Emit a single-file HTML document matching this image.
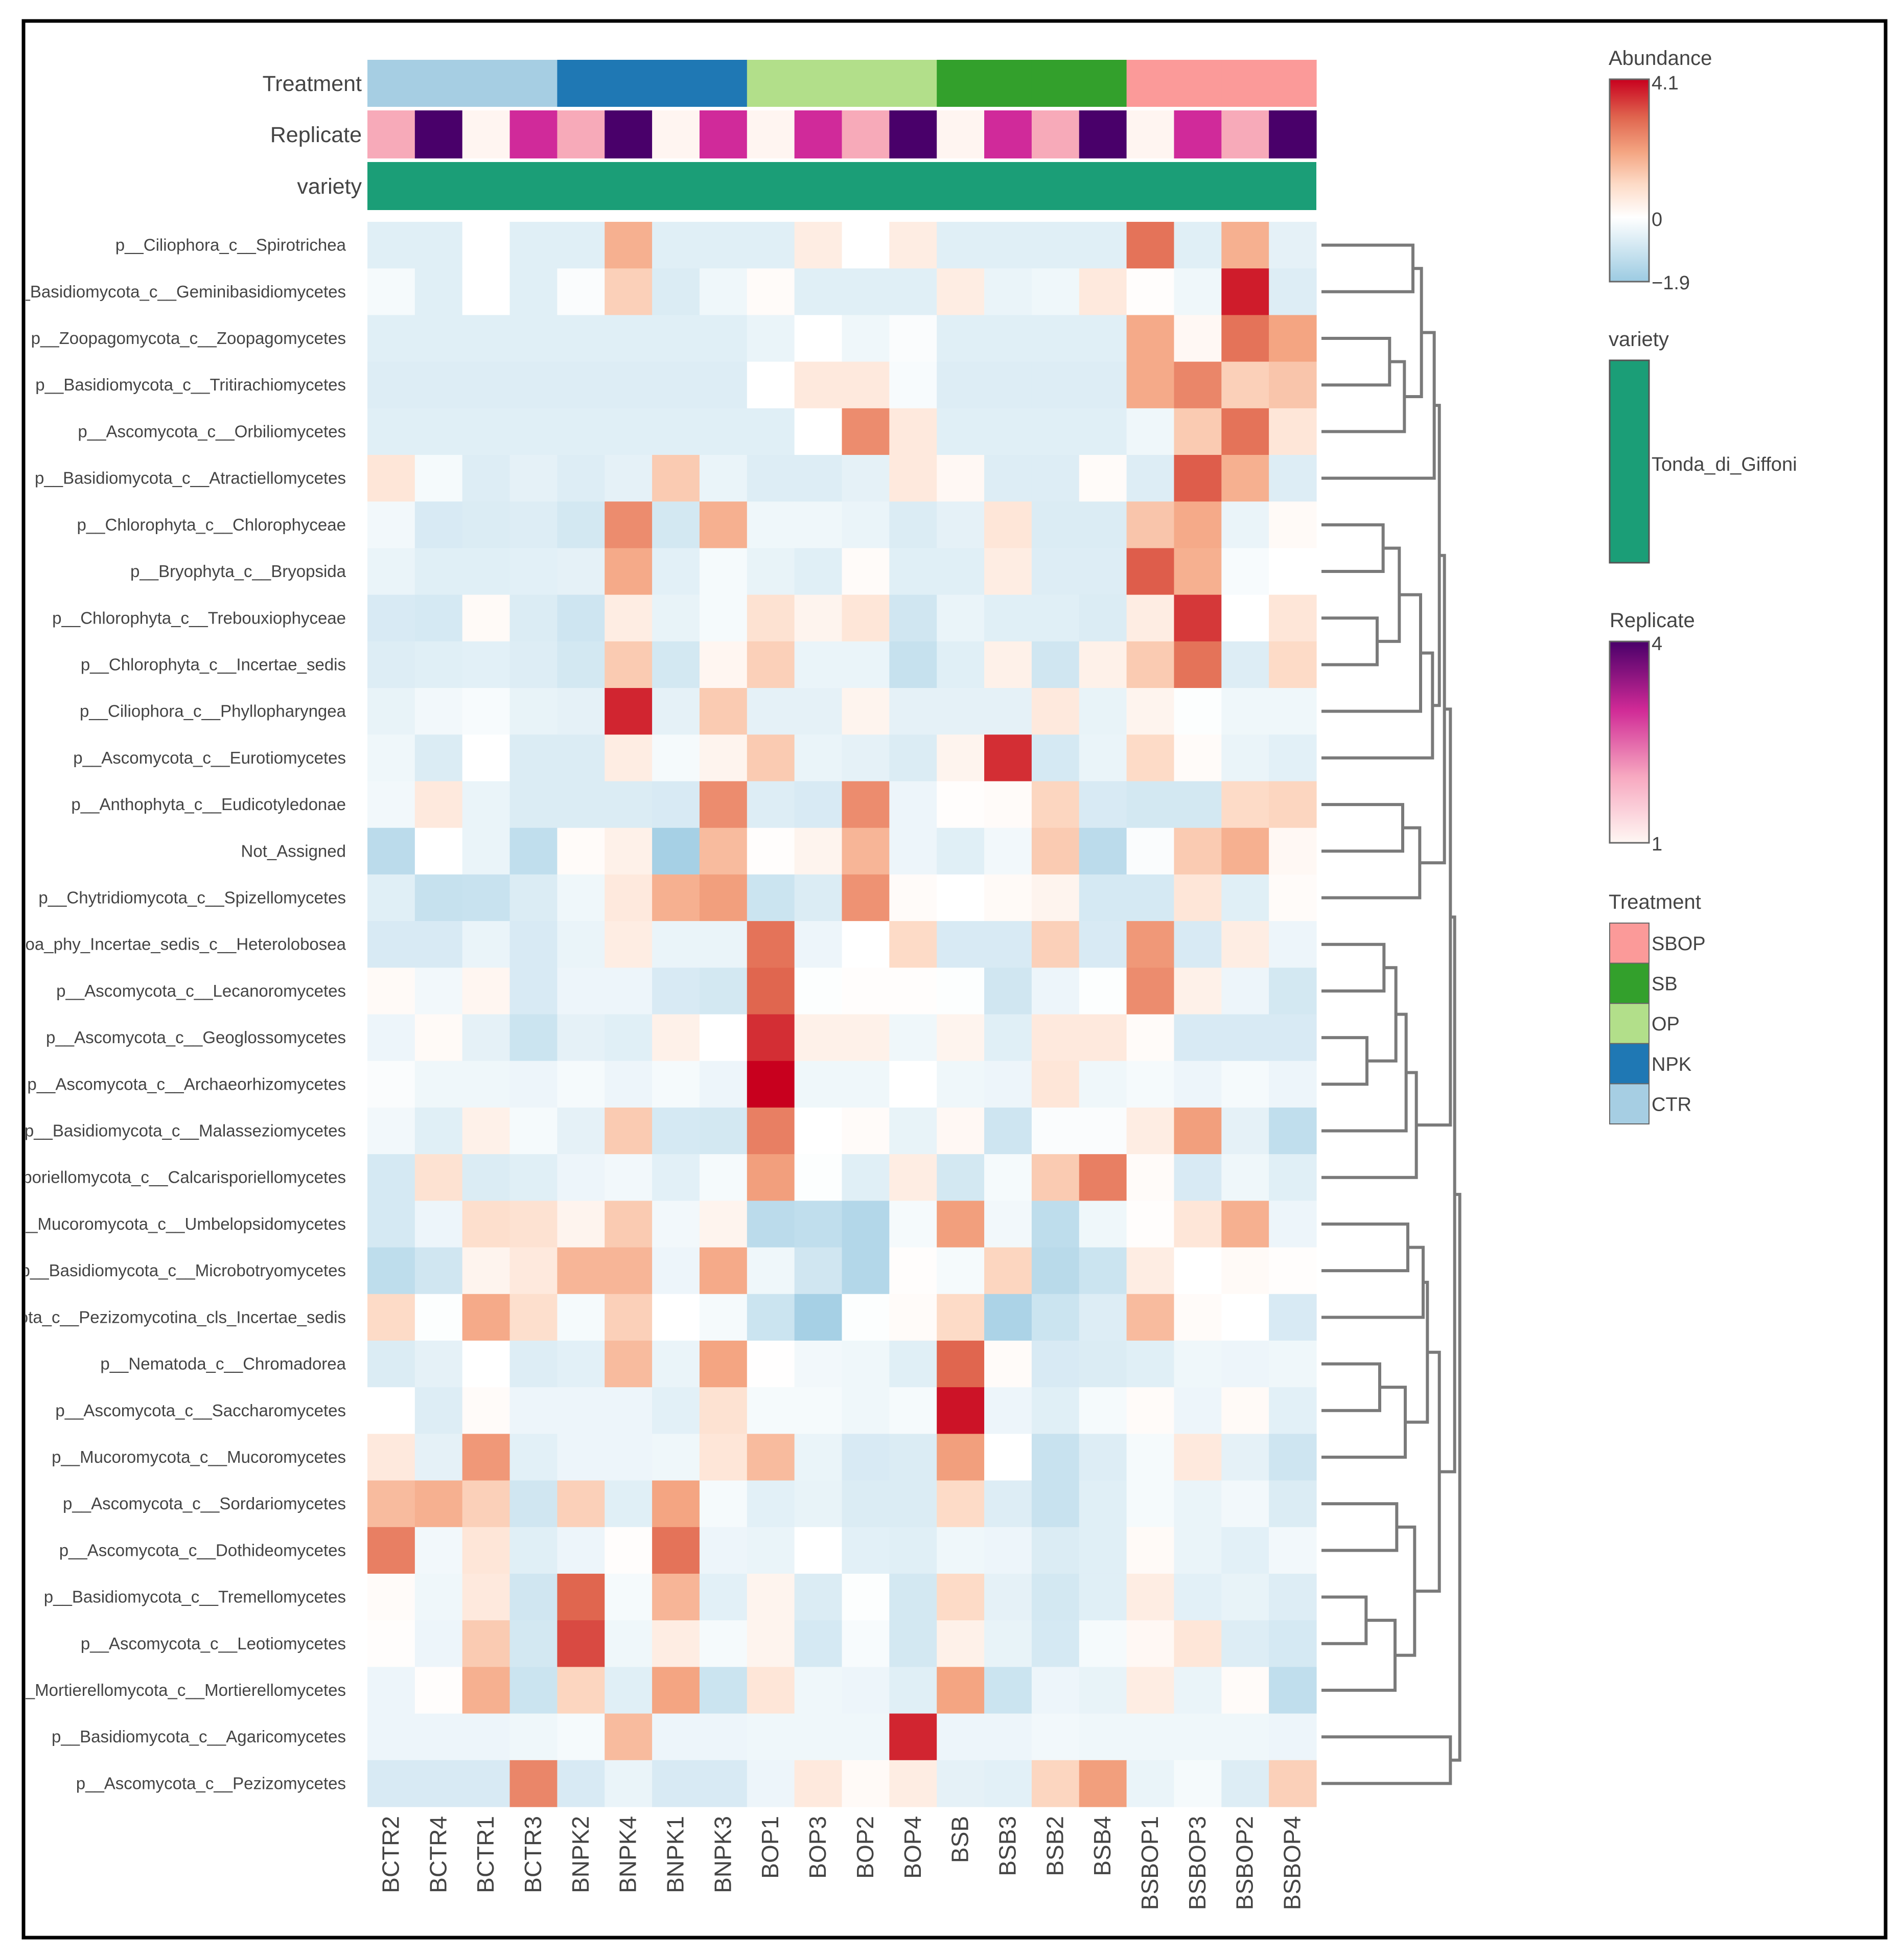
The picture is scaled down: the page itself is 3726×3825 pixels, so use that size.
<!DOCTYPE html>
<html><head><meta charset="utf-8"><title>Heatmap</title>
<style>
html,body{margin:0;padding:0;background:#fff;}
svg{display:block;}
text{font-family:"Liberation Sans",sans-serif;}
</style></head>
<body>
<svg id="chart" width="3726" height="3825" xmlns="http://www.w3.org/2000/svg">
<rect x="0" y="0" width="3726" height="3825" fill="#fff"/>
<defs>
<clipPath id="lblclip"><rect x="50" y="0" width="700" height="3825"/></clipPath>
<linearGradient id="abgrad" x1="0" y1="1" x2="0" y2="0">
<stop offset="0" stop-color="#9ccbe2"/><stop offset="0.317" stop-color="#ffffff"/>
<stop offset="0.48" stop-color="#fddbc7"/><stop offset="0.64" stop-color="#f4a582"/>
<stop offset="0.81" stop-color="#e0664f"/><stop offset="1" stop-color="#c8001e"/>
</linearGradient>
<linearGradient id="repgrad" x1="0" y1="1" x2="0" y2="0">
<stop offset="0" stop-color="#fff7f3"/><stop offset="0.33" stop-color="#f7a8c0"/>
<stop offset="0.66" stop-color="#d02a96"/><stop offset="1" stop-color="#49006a"/>
</linearGradient>
</defs>
<g id="heat"></g>
<g id="annot"></g>
<g id="rowlabels" clip-path="url(#lblclip)"></g>
<g id="collabels"></g>
<g id="dendro" stroke="#7a7a7a" stroke-width="6" fill="none"></g>
<g id="legend">
<text x="3148" y="127" font-size="40" fill="#444">Abundance</text>
<rect x="3150" y="155" width="77" height="396" fill="url(#abgrad)" stroke="#666" stroke-width="3"/>
<text x="3232" y="175" font-size="38" fill="#444">4.1</text>
<text x="3232" y="442" font-size="38" fill="#444">0</text>
<text x="3232" y="566" font-size="38" fill="#444">−1.9</text>
<text x="3148" y="677" font-size="40" fill="#444">variety</text>
<rect x="3150" y="705" width="77" height="396" fill="#1b9e77" stroke="#555" stroke-width="3"/>
<text x="3232" y="921" font-size="38" fill="#444">Tonda_di_Giffoni</text>
<text x="3150" y="1227" font-size="40" fill="#444">Replicate</text>
<rect x="3150" y="1255" width="77" height="394" fill="url(#repgrad)" stroke="#666" stroke-width="3"/>
<text x="3232" y="1272" font-size="38" fill="#444">4</text>
<text x="3232" y="1664" font-size="38" fill="#444">1</text>
<text x="3148" y="1778" font-size="40" fill="#444">Treatment</text>
</g>
<rect x="46" y="41" width="3644" height="3750" fill="none" stroke="#000" stroke-width="7"/>
</svg>
<script>
const columns = ["BCTR2","BCTR4","BCTR1","BCTR3","BNPK2","BNPK4","BNPK1","BNPK3","BOP1","BOP3","BOP2","BOP4","BSB","BSB3","BSB2","BSB4","BSBOP1","BSBOP3","BSBOP2","BSBOP4"];
const treatments = ["CTR","CTR","CTR","CTR","NPK","NPK","NPK","NPK","OP","OP","OP","OP","SB","SB","SB","SB","SBOP","SBOP","SBOP","SBOP"];
const replicates = [2,4,1,3,2,4,1,3,1,3,2,4,1,3,2,4,1,3,2,4];
const treatmentLevels = ["SBOP","SB","OP","NPK","CTR"];
const treatmentColors = {CTR:"#a6cee3",NPK:"#1f78b4",OP:"#b2df8a",SB:"#33a02c",SBOP:"#fb9a99"};
const replicateColors = {1:"#fff5f1",2:"#f7aab9",3:"#d02a9a",4:"#49006a"};
const rows = ["p__Ciliophora_c__Spirotrichea","p__Basidiomycota_c__Geminibasidiomycetes","p__Zoopagomycota_c__Zoopagomycetes","p__Basidiomycota_c__Tritirachiomycetes","p__Ascomycota_c__Orbiliomycetes","p__Basidiomycota_c__Atractiellomycetes","p__Chlorophyta_c__Chlorophyceae","p__Bryophyta_c__Bryopsida","p__Chlorophyta_c__Trebouxiophyceae","p__Chlorophyta_c__Incertae_sedis","p__Ciliophora_c__Phyllopharyngea","p__Ascomycota_c__Eurotiomycetes","p__Anthophyta_c__Eudicotyledonae","Not_Assigned","p__Chytridiomycota_c__Spizellomycetes","p__Percolozoa_phy_Incertae_sedis_c__Heterolobosea","p__Ascomycota_c__Lecanoromycetes","p__Ascomycota_c__Geoglossomycetes","p__Ascomycota_c__Archaeorhizomycetes","p__Basidiomycota_c__Malasseziomycetes","p__Calcarisporiellomycota_c__Calcarisporiellomycetes","p__Mucoromycota_c__Umbelopsidomycetes","p__Basidiomycota_c__Microbotryomycetes","p__Ascomycota_c__Pezizomycotina_cls_Incertae_sedis","p__Nematoda_c__Chromadorea","p__Ascomycota_c__Saccharomycetes","p__Mucoromycota_c__Mucoromycetes","p__Ascomycota_c__Sordariomycetes","p__Ascomycota_c__Dothideomycetes","p__Basidiomycota_c__Tremellomycetes","p__Ascomycota_c__Leotiomycetes","p__Mortierellomycota_c__Mortierellomycetes","p__Basidiomycota_c__Agaricomycetes","p__Ascomycota_c__Pezizomycetes"];
const values = [
[-0.6,-0.6,0,-0.6,-0.6,1.8,-0.6,-0.6,-0.6,0.5,0,0.5,-0.6,-0.6,-0.6,-0.6,2.8,-0.6,1.8,-0.5],
[-0.2,-0.6,0,-0.6,-0.1,1.2,-0.7,-0.3,0.1,-0.6,-0.6,-0.6,0.5,-0.4,-0.3,0.6,0.05,-0.3,3.8,-0.65],
[-0.6,-0.6,-0.6,-0.6,-0.6,-0.6,-0.6,-0.6,-0.4,0,-0.3,-0.1,-0.6,-0.6,-0.6,-0.6,1.9,0.2,2.8,2.0],
[-0.65,-0.65,-0.65,-0.65,-0.65,-0.65,-0.65,-0.65,0,0.6,0.6,-0.15,-0.65,-0.65,-0.65,-0.65,1.9,2.5,1.2,1.4],
[-0.6,-0.6,-0.6,-0.6,-0.6,-0.6,-0.6,-0.6,-0.6,0,2.4,0.6,-0.6,-0.6,-0.6,-0.6,-0.3,1.3,2.8,0.7],
[0.7,-0.2,-0.65,-0.5,-0.65,-0.5,1.3,-0.4,-0.65,-0.65,-0.5,0.6,0.2,-0.65,-0.65,0.1,-0.65,3.1,1.8,-0.65],
[-0.25,-0.75,-0.7,-0.65,-0.85,2.4,-0.85,1.8,-0.3,-0.3,-0.4,-0.7,-0.5,0.7,-0.7,-0.7,1.4,1.9,-0.4,0.15],
[-0.4,-0.6,-0.6,-0.55,-0.5,1.9,-0.55,-0.2,-0.45,-0.6,0.1,-0.6,-0.6,0.5,-0.65,-0.65,3.1,1.8,-0.15,0],
[-0.75,-0.8,0.15,-0.7,-0.95,0.5,-0.45,-0.2,0.8,0.3,0.7,-0.9,-0.4,-0.6,-0.6,-0.7,0.5,3.5,0,0.7],
[-0.65,-0.6,-0.55,-0.65,-0.85,1.3,-0.85,0.25,1.2,-0.4,-0.4,-1.1,-0.6,0.4,-0.9,0.4,1.3,2.8,-0.65,1.0],
[-0.45,-0.25,-0.15,-0.45,-0.5,3.7,-0.5,1.3,-0.5,-0.5,0.3,-0.5,-0.5,-0.5,0.6,-0.45,0.3,-0.05,-0.3,-0.3],
[-0.3,-0.7,0,-0.7,-0.7,0.5,-0.2,0.3,1.3,-0.4,-0.5,-0.7,0.3,3.6,-0.8,-0.4,1.0,0.1,-0.4,-0.55],
[-0.25,0.6,-0.4,-0.7,-0.7,-0.7,-0.75,2.4,-0.65,-0.75,2.4,-0.35,0.05,0.1,1.1,-0.75,-0.85,-0.85,1.0,1.1],
[-1.3,0,-0.4,-1.2,0.1,0.4,-1.7,1.6,0.05,0.3,1.7,-0.35,-0.6,-0.25,1.3,-1.3,-0.1,1.3,1.8,0.2],
[-0.6,-1.1,-1.05,-0.7,-0.3,0.6,1.8,2.1,-1.0,-0.7,2.3,0.1,0,0.15,0.3,-0.8,-0.8,0.7,-0.6,0.1],
[-0.75,-0.75,-0.4,-0.75,-0.4,0.5,-0.4,-0.4,2.8,-0.35,0,1.0,-0.75,-0.75,1.2,-0.75,2.2,-0.75,0.5,-0.35],
[0.15,-0.25,0.25,-0.75,-0.35,-0.35,-0.75,-0.85,3.0,-0.05,0.05,0.05,-0.05,-0.9,-0.35,-0.05,2.4,0.4,-0.35,-0.85],
[-0.35,0.15,-0.5,-1.0,-0.5,-0.6,0.4,0,3.6,0.4,0.4,-0.3,0.3,-0.6,0.6,0.6,0.1,-0.75,-0.75,-0.75],
[-0.1,-0.3,-0.3,-0.35,-0.2,-0.35,-0.2,-0.35,4.1,-0.3,-0.3,0,-0.3,-0.35,0.7,-0.3,-0.2,-0.35,-0.2,-0.35],
[-0.25,-0.6,0.4,-0.2,-0.5,1.3,-0.8,-0.85,2.6,0,0.1,-0.45,0.2,-0.95,-0.1,-0.1,0.5,2.1,-0.5,-1.2],
[-0.8,0.8,-0.7,-0.6,-0.35,-0.25,-0.55,-0.2,2.1,-0.05,-0.6,0.5,-0.85,-0.2,1.3,2.6,0.1,-0.75,-0.3,-0.6],
[-0.8,-0.35,0.9,0.8,0.3,1.3,-0.25,0.3,-1.3,-1.2,-1.45,-0.2,2.1,-0.25,-1.25,-0.3,0.05,0.7,1.8,-0.35],
[-1.25,-0.9,0.3,0.6,1.7,1.7,-0.35,1.9,-0.3,-0.9,-1.45,0.05,-0.2,1.1,-1.35,-1.0,0.5,0,0.15,0.05],
[1.0,-0.05,1.9,0.9,-0.2,1.2,0,-0.2,-1.0,-1.7,-0.05,0.1,1.0,-1.6,-1.0,-0.65,1.6,0.1,0,-0.75],
[-0.7,-0.5,0,-0.65,-0.55,1.6,-0.4,2.0,0.02,-0.25,-0.3,-0.6,3.0,0.1,-0.75,-0.7,-0.6,-0.3,-0.35,-0.3],
[0,-0.65,0.1,-0.35,-0.35,-0.35,-0.55,0.8,-0.2,-0.2,-0.3,-0.2,3.9,-0.35,-0.6,-0.2,0.1,-0.35,0.15,-0.55],
[0.6,-0.5,2.2,-0.55,-0.35,-0.35,-0.3,0.7,1.6,-0.4,-0.75,-0.7,2.1,0,-1.05,-0.65,-0.2,0.6,-0.5,-0.95],
[1.6,1.8,1.2,-0.9,1.2,-0.6,2.0,-0.2,-0.55,-0.45,-0.7,-0.7,1.0,-0.65,-1.05,-0.6,-0.2,-0.4,-0.25,-0.7],
[2.6,-0.25,0.7,-0.6,-0.35,0.05,2.8,-0.35,-0.4,0,-0.55,-0.6,-0.3,-0.35,-0.7,-0.6,0.15,-0.4,-0.55,-0.25],
[0.1,-0.3,0.6,-0.9,3.0,-0.2,1.7,-0.55,0.3,-0.7,-0.05,-0.85,1.0,-0.5,-0.85,-0.6,0.5,-0.55,-0.45,-0.65],
[0.05,-0.35,1.3,-0.85,3.3,-0.3,0.5,-0.2,0.3,-0.8,-0.15,-0.85,0.4,-0.45,-0.8,-0.2,0.2,0.7,-0.65,-0.8],
[-0.35,0.05,1.8,-1.0,1.1,-0.6,2.0,-1.0,0.7,-0.3,-0.35,-0.6,2.0,-1.0,-0.35,-0.45,0.5,-0.4,0.1,-1.2],
[-0.35,-0.35,-0.35,-0.3,-0.2,1.6,-0.35,-0.35,-0.3,-0.3,-0.3,3.7,-0.35,-0.35,-0.25,-0.3,-0.3,-0.3,-0.3,-0.35],
[-0.75,-0.75,-0.75,2.5,-0.75,-0.4,-0.75,-0.75,-0.35,0.6,0.15,0.5,-0.5,-0.55,1.1,2.1,-0.4,-0.2,-0.65,1.2]
];
// dendrogram merges: [childA, childB, height]; "L#" = leaf row, "M#" = merge index
const merges = [
["L0","L1",615],["L2","L3",478],["M1","L4",565],["M0","M2",665],["M3","L5",740],
["L6","L7",440],["L8","L9",405],["M5","M6",535],["M7","L10",660],["M8","L11",730],
["M4","M9",770],["L12","L13",555],["M11","L14",655],["M10","M12",800],
["L15","L16",445],["L17","L18",345],["M14","M15",515],["M16","L19",575],["M17","L20",635],
["M13","M18",835],["L21","L22",585],["M20","L23",675],["L24","L25",420],["M22","L26",570],
["M21","M23",700],["L27","L28",520],["L29","L30",340],["M26","L31",510],["M25","M27",625],
["M24","M28",770],["M19","M29",860],["L32","L33",835],["M30","M31",890]
];

const NS="http://www.w3.org/2000/svg";
const X0=719, X1=2576, Y0=434, Y1=3535;
const cw=(X1-X0)/columns.length, rh=(Y1-Y0)/rows.length;
const xCol=i=>X0+i*cw, yRow=j=>Y0+j*rh;
const vmin=-1.9, vmax=4.1;
const stops=[[-1.9,[156,203,226]],[0,[255,255,255]],[1,[253,219,199]],[2,[244,165,130]],[3,[224,102,79]],[4.1,[200,0,30]]];
function color(v){
  v=Math.max(vmin,Math.min(vmax,v));
  for(let k=0;k<stops.length-1;k++){
    const a=stops[k],b=stops[k+1];
    if(v<=b[0]){const t=(v-a[0])/(b[0]-a[0]);
      const c=a[1].map((x,i)=>Math.round(x+(b[1][i]-x)*t));
      return "rgb("+c.join(",")+")";}
  }
  return "rgb(200,0,30)";
}
function mk(tag,attrs,parent){const e=document.createElementNS(NS,tag);for(const k in attrs)e.setAttribute(k,attrs[k]);parent.appendChild(e);return e;}

const heat=document.getElementById("heat");
values.forEach((row,j)=>row.forEach((v,i)=>{
  const r=mk("rect",{x:xCol(i),y:yRow(j),width:cw+0.6,height:rh+0.6,fill:color(v)},heat);
  
  
}));

const annot=document.getElementById("annot");
const annRows=[["Treatment",117,209],["Replicate",216,310],["variety",317,411]];
columns.forEach((c,i)=>{
  const t=mk("rect",{x:xCol(i),y:117,width:cw+0.6,height:92,fill:treatmentColors[treatments[i]]},annot);
  
  
  const r=mk("rect",{x:xCol(i),y:216,width:cw+0.6,height:94,fill:replicateColors[replicates[i]]},annot);
  
  
});
const vr=mk("rect",{x:X0,y:317,width:X1-X0,height:94,fill:"#1b9e77"},annot);


annRows.forEach(a=>{
  const t=mk("text",{x:708,y:(a[1]+a[2])/2+15,"font-size":43,fill:"#444","text-anchor":"end"},annot);
  t.textContent=a[0];
  
  
});

const rl=document.getElementById("rowlabels");
rows.forEach((n,j)=>{
  const t=mk("text",{x:677,y:yRow(j)+rh/2+11,"font-size":33,fill:"#444","text-anchor":"end"},rl);
  t.textContent=n;
  
  
});

const cl=document.getElementById("collabels");
columns.forEach((n,i)=>{
  const cx=xCol(i)+cw/2+15, cy=3553;
  const t=mk("text",{x:cx,y:cy,"font-size":46,fill:"#444","text-anchor":"end",transform:"rotate(-90 "+cx+" "+cy+")"},cl);
  t.textContent=n;
  
  
});

const tl=document.getElementById("legend");
treatmentLevels.forEach((lv,k)=>{
  const y=1806+k*78.6;
  const r=mk("rect",{x:3150,y:y,width:77,height:78.6,fill:treatmentColors[lv],stroke:"#666","stroke-width":2},tl);
  
  
  const t=mk("text",{x:3232,y:y+53,"font-size":38,fill:"#444"},tl);
  t.textContent=lv;
  
  
});

// dendrogram
const dg=document.getElementById("dendro");
const leafX=2586;
const hx=h=>2560+h/3;
const pos={};
function get(id){
  if(id[0]==="L"){const j=+id.slice(1);return {x:leafX,y:yRow(j)+rh/2};}
  return pos[id];
}
merges.forEach((m,k)=>{
  const a=get(m[0]),b=get(m[1]),x=hx(m[2]);
  const p=mk("path",{d:"M"+a.x+","+a.y+"H"+x+"V"+b.y+"H"+b.x},dg);
  
  
  pos["M"+k]={x:x,y:(a.y+b.y)/2};
});
</script>
</body></html>
